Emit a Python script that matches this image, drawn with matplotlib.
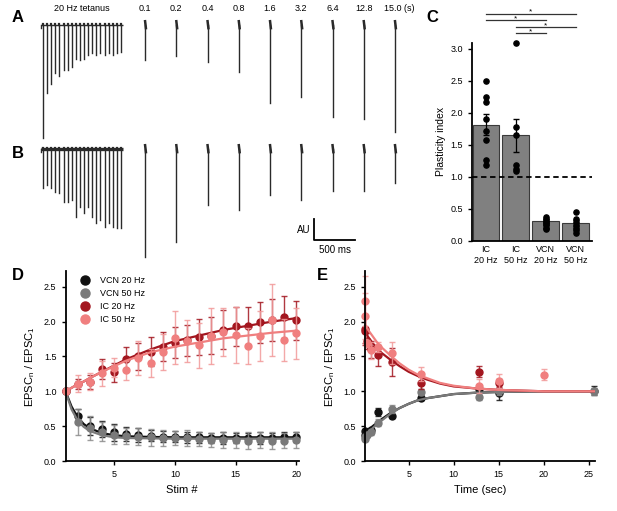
import numpy as np
import matplotlib
matplotlib.use("Agg")
import matplotlib.pyplot as plt

plt.rcParams['font.family'] = ['Liberation Sans', 'DejaVu Sans']
plt.rcParams['mathtext.default'] = 'regular'

W, H = 617, 511

# ---------------- data ----------------
# A / B example traces (amplitudes in AU, scale bar = 1 AU)
tet_A = [5.4, 3.25, 2.8, 2.3, 2.45, 2.15, 2.15, 2.0, 1.6, 1.65,
         1.6, 1.45, 1.35, 1.45, 1.35, 1.45, 1.35, 1.45, 1.35, 1.3]
rec_A = [1.65, 1.5, 1.75, 2.25, 3.7, 3.45, 4.4, 4.5, 5.1]
tet_B = [1.85, 1.7, 1.85, 2.05, 2.1, 2.5, 2.5, 2.45, 3.25, 2.75,
         3.05, 2.75, 3.25, 3.5, 3.4, 3.7, 3.5, 3.7, 3.75, 3.75]
rec_B = [5.15, 4.45, 2.65, 2.9, 2.2, 2.45, 2.0, 2.0, 1.6]
rec_labels = ['0.1', '0.2', '0.4', '0.8', '1.6', '3.2', '6.4', '12.8', '15.0 (s)']
tet_rate = 20  # Hz

# C plasticity index
groups = ['IC\n20 Hz', 'IC\n50 Hz', 'VCN\n20 Hz', 'VCN\n50 Hz']
pi_mean = [1.82, 1.65, 0.31, 0.28]
pi_sem = [0.17, 0.26, 0.03, 0.05]
pi_cells = [
    [2.50, 2.25, 2.17, 1.91, 1.72, 1.58, 1.26, 1.18],
    [3.10, 1.78, 1.65, 1.18, 1.13, 1.09],
    [0.37, 0.34, 0.32, 0.30, 0.27, 0.25, 0.21, 0.19],
    [0.45, 0.35, 0.30, 0.25, 0.20, 0.17, 0.13],
]
sig_pairs = [(0, 3), (0, 2), (1, 3), (1, 2)]

# D train data
stim = list(range(1, 21))
vcn20 = [1.0, 0.65, 0.50, 0.46, 0.41, 0.39, 0.37, 0.36, 0.35, 0.35,
         0.34, 0.34, 0.33, 0.33, 0.33, 0.33, 0.33, 0.33, 0.34, 0.34]
vcn20_err = [0, 0.10, 0.13, 0.12, 0.12, 0.10, 0.10, 0.08, 0.08, 0.08,
             0.08, 0.08, 0.07, 0.08, 0.07, 0.07, 0.08, 0.07, 0.07, 0.07]
vcn50 = [1.0, 0.56, 0.47, 0.42, 0.38, 0.36, 0.35, 0.34, 0.33, 0.33,
         0.33, 0.32, 0.30, 0.30, 0.30, 0.29, 0.30, 0.29, 0.29, 0.30]
vcn50_err = [0, 0.18, 0.17, 0.14, 0.14, 0.12, 0.12, 0.12, 0.12, 0.10,
             0.11, 0.10, 0.10, 0.11, 0.11, 0.12, 0.11, 0.12, 0.11, 0.12]
ic20 = [1.0, 1.11, 1.14, 1.32, 1.27, 1.47, 1.50, 1.57, 1.64, 1.70,
        1.73, 1.78, 1.80, 1.88, 1.93, 1.94, 1.99, 2.02, 2.06, 2.02]
ic20_err = [0, 0.07, 0.10, 0.15, 0.14, 0.17, 0.20, 0.21, 0.21, 0.22,
            0.22, 0.26, 0.27, 0.28, 0.28, 0.27, 0.29, 0.30, 0.30, 0.28]
ic50 = [1.0, 1.11, 1.14, 1.26, 1.34, 1.30, 1.48, 1.41, 1.56, 1.77,
        1.72, 1.66, 1.79, 1.85, 1.81, 1.65, 1.79, 2.02, 1.74, 1.83]
ic50_err = [0, 0.12, 0.12, 0.18, 0.14, 0.14, 0.24, 0.20, 0.26, 0.38,
            0.30, 0.32, 0.40, 0.35, 0.40, 0.26, 0.36, 0.52, 0.30, 0.36]

# D fit curves
fitD_x = [1, 1.5, 2, 2.5, 3, 4, 5, 6, 8, 10, 12, 14, 16, 18, 20]
fitD_vcn20 = [1.0, 0.78, 0.63, 0.53, 0.47, 0.40, 0.37, 0.355, 0.345, 0.34, 0.34, 0.34, 0.34, 0.34, 0.34]
fitD_vcn50 = [1.0, 0.74, 0.58, 0.49, 0.43, 0.37, 0.34, 0.33, 0.325, 0.32, 0.32, 0.32, 0.32, 0.32, 0.32]
fitD_ic20 = [1.0, 1.05, 1.10, 1.14, 1.19, 1.28, 1.37, 1.46, 1.60, 1.72, 1.80, 1.88, 1.94, 2.00, 2.05]
fitD_ic50 = [1.0, 1.05, 1.10, 1.14, 1.19, 1.28, 1.36, 1.44, 1.56, 1.64, 1.70, 1.76, 1.80, 1.84, 1.87]

# E recovery data
t_vcn = [0.1, 0.2, 0.4, 0.8, 1.6, 3.2, 6.4, 12.8, 15.0, 25.6]
e_vcn20 = [0.37, 0.43, 0.42, 0.45, 0.70, 0.64, 0.91, 1.03, 0.98, 1.01]
e_vcn20_err = [0.03, 0.03, 0.03, 0.03, 0.06, 0.03, 0.03, 0.03, 0.11, 0.06]
e_vcn50 = [0.32, 0.35, 0.38, 0.41, 0.55, 0.75, 0.99, 0.92, 1.00, 1.00]
e_vcn50_err = [0.03, 0.04, 0.04, 0.04, 0.05, 0.06, 0.05, 0.04, 0.05, 0.05]
t_ic20 = [0.1, 0.2, 0.4, 0.8, 1.6, 3.2, 6.4, 12.8, 15.0]
e_ic20 = [1.86, 1.89, 1.72, 1.60, 1.52, 1.42, 1.12, 1.28, 1.12]
e_ic20_err = [0.2, 0.2, 0.12, 0.12, 0.15, 0.2, 0.08, 0.08, 0.06]
t_ic50 = [0.1, 0.2, 0.4, 0.8, 1.6, 3.2, 6.4, 12.8, 15.0, 20.0]
e_ic50 = [2.30, 2.08, 1.69, 1.59, 1.64, 1.55, 1.25, 1.08, 1.15, 1.24]
e_ic50_err = [0.36, 0.33, 0.05, 0.12, 0.07, 0.16, 0.1, 0.1, 0.1, 0.08]

fitE_x = [0.1, 0.5, 1, 1.5, 2, 3, 4, 5, 6, 7, 8.5, 10, 12.5, 15, 20, 25.6]
fitE_vcn20 = [0.40, 0.44, 0.50, 0.55, 0.60, 0.69, 0.76, 0.82, 0.87, 0.90, 0.93, 0.96, 0.98, 0.99, 1.0, 1.0]
fitE_vcn50 = [0.36, 0.41, 0.47, 0.53, 0.58, 0.68, 0.76, 0.82, 0.87, 0.90, 0.93, 0.96, 0.98, 0.99, 1.0, 1.0]
fitE_ic20 = [1.86, 1.78, 1.69, 1.62, 1.55, 1.45, 1.36, 1.28, 1.22, 1.17, 1.11, 1.07, 1.04, 1.02, 1.0, 1.0]
fitE_ic50 = [1.97, 1.88, 1.79, 1.70, 1.63, 1.51, 1.40, 1.31, 1.24, 1.19, 1.12, 1.08, 1.04, 1.02, 1.0, 1.0]

c_vcn20 = '#111111'
c_vcn50 = '#7a7a7a'
c_ic20 = '#a3161f'
c_ic50 = '#f07f7f'


def px_axes(fig, left, top, right, bottom):
    return fig.add_axes([left / W, 1 - bottom / H, (right - left) / W, (bottom - top) / H])


fig = plt.figure(figsize=(W / 100, H / 100), dpi=100)

# ---------------- A / B traces ----------------
# trace axes: x in ms, y in AU. 500 ms = 41 px, 1 AU = 21 px
ms_px = 500 / 41.0
au_px = 1 / 21.0
axT = px_axes(fig, 0, 0, 420, 265)
axT.set_xlim(-43 * ms_px, (420 - 43) * ms_px)
axT.set_ylim(-240 * au_px, 25 * au_px)
axT.axis('off')

rec_t0 = 1245
rec_step = 381
base_A = 0.0
base_B = -124 * au_px
tcol = '#2a2a2a'


def draw_sweep(ax, base, tet, rec, thick):
    tt = np.arange(len(tet)) * 1000.0 / tet_rate
    ax.plot([-30, tt[-1] + 20], [base, base], color=tcol, lw=thick, solid_capstyle='butt')
    ax.plot([-30, -30], [base, base - 0.12], color=tcol, lw=1.0)
    for t, a in zip(tt, tet):
        ax.plot([t, t], [base, base - a], color=tcol, lw=1.0)
        ax.plot([t, t], [base, base + 0.06], color=tcol, lw=1.6)
    for i, a in enumerate(rec):
        t = rec_t0 + i * rec_step
        ax.plot([t, t], [base + 0.02, base - a], color=tcol, lw=1.0)
        ax.plot([t, t + 10], [base + 0.18, base - 0.15], color=tcol, lw=1.8)


draw_sweep(axT, base_A, tet_A, rec_A, 1.0)
draw_sweep(axT, base_B, tet_B, rec_B, 2.4)

axT.text(475, 0.55, '20 Hz tetanus', fontsize=6.5, ha='center', va='bottom')
for i, lab in enumerate(rec_labels):
    x = rec_t0 + i * rec_step
    if i == len(rec_labels) - 1:
        x += 55
    axT.text(x, 0.55, lab, fontsize=6.5, ha='center', va='bottom')

# scale bar
sb_x = (314 - 43) * ms_px
sb_y = -240 * au_px + 25 * au_px
axT.plot([sb_x, sb_x, sb_x + 500], [sb_y + 1.0, sb_y, sb_y], color='black', lw=1.3)
axT.text(sb_x - 40, sb_y + 0.5, 'AU', fontsize=7, ha='right', va='center')
axT.text(sb_x + 250, sb_y - 0.25, '500 ms', fontsize=7, ha='center', va='top')

# ---------------- C ----------------
axC = px_axes(fig, 472, 42.6, 592, 241)
xs = np.arange(len(groups))
axC.bar(xs, pi_mean, width=0.9, color='#808080', edgecolor='#3a3a3a', lw=0.8, zorder=2)
axC.errorbar(xs, pi_mean, yerr=pi_sem, fmt='none', ecolor='black', elinewidth=0.9, capsize=2, zorder=3)
for i, cells in enumerate(pi_cells):
    axC.scatter([xs[i]] * len(cells), cells, s=14, color='black', zorder=4, clip_on=False)
axC.axhline(1.0, color='black', lw=1.3, ls=(0, (3, 2)), zorder=5)
axC.set_xlim(-0.47, 3.55)
axC.set_ylim(0, 3.1)
axC.set_yticks(np.arange(0, 3.01, 0.5))
axC.set_yticklabels(['%.1f' % v for v in np.arange(0, 3.01, 0.5)])
axC.set_xticks(xs)
axC.set_xticklabels(groups, fontsize=6.5, linespacing=1.2)
axC.tick_params(axis='x', length=0, pad=3)
axC.tick_params(axis='y', labelsize=6.5, length=3, width=1, direction='out')
for s in ['top', 'right']:
    axC.spines[s].set_visible(False)
axC.spines['left'].set_linewidth(1.3)
axC.spines['bottom'].set_linewidth(1.3)
axC.set_ylabel('Plasticity index', fontsize=7.5, labelpad=3)
sig_y = [3.55, 3.45, 3.34, 3.25]
for (a, b), y in zip(sig_pairs, sig_y):
    axC.plot([xs[a], xs[b]], [y, y], color='#333333', lw=0.9, clip_on=False)
    axC.text((xs[a] + xs[b]) / 2, y - 0.03, '*', fontsize=6, ha='center', va='bottom')

# ---------------- D ----------------
axD = px_axes(fig, 65.5, 271.4, 298.8, 461)
series = [
    (vcn20, vcn20_err, fitD_vcn20, c_vcn20, c_vcn20, 'VCN 20 Hz'),
    (vcn50, vcn50_err, fitD_vcn50, c_vcn50, '#8c8c8c', 'VCN 50 Hz'),
    (ic20, ic20_err, fitD_ic20, c_ic20, c_ic20, 'IC 20 Hz'),
    (ic50, ic50_err, fitD_ic50, c_ic50, '#f29a9a', 'IC 50 Hz'),
]
for y, e, f, col, ecol, lab in series:
    axD.errorbar(stim, y, yerr=e, fmt='none', ecolor=ecol, elinewidth=1.0, capsize=2.5, alpha=0.85, clip_on=False)
    axD.plot(fitD_x, f, color=col, lw=1.6)
    axD.plot(stim, y, 'o', color=col, ms=5, label=lab, clip_on=False)
axD.set_xlim(1, 20.2)
axD.set_ylim(0, 2.72)
leg = axD.legend(loc='upper left', bbox_to_anchor=(0.03, 1.02), frameon=False, fontsize=6.5,
                 handlelength=1.0, handletextpad=1.2, labelspacing=0.45, markerscale=1.3)
axD.set_xlabel('Stim #', fontsize=8, labelpad=4)
axD.set_ylabel('EPSC$_{n}$ / EPSC$_{1}$', fontsize=8, labelpad=5)

# ---------------- E ----------------
axE = px_axes(fig, 365, 271.4, 595, 461)
eser = [
    (t_vcn, e_vcn20, e_vcn20_err, fitE_vcn20, c_vcn20, c_vcn20),
    (t_vcn, e_vcn50, e_vcn50_err, fitE_vcn50, c_vcn50, '#8c8c8c'),
    (t_ic20, e_ic20, e_ic20_err, fitE_ic20, c_ic20, c_ic20),
    (t_ic50, e_ic50, e_ic50_err, fitE_ic50, c_ic50, '#f29a9a'),
]
for t, y, e, f, col, ecol in eser:
    axE.errorbar(t, y, yerr=e, fmt='none', ecolor=ecol, elinewidth=1.0, capsize=2.5, alpha=0.85, clip_on=False)
    axE.plot(fitE_x, f, color=col, lw=1.6)
    axE.plot(t, y, 'o', color=col, ms=5, clip_on=False)
axE.set_xlim(0.15, 25.7)
axE.set_ylim(0, 2.72)
axE.set_xlabel('Time (sec)', fontsize=8, labelpad=4)
axE.set_ylabel('EPSC$_{n}$ / EPSC$_{1}$', fontsize=8, labelpad=5)

for ax, xt in [(axD, [5, 10, 15, 20]), (axE, [5, 10, 15, 20, 25])]:
    ax.set_xticks(xt)
    ax.set_yticks(np.arange(0, 2.51, 0.5))
    ax.set_yticklabels(['%.1f' % v for v in np.arange(0, 2.51, 0.5)])
    ax.tick_params(labelsize=6.5, length=3, width=1, direction='out')
    for s in ['top', 'right']:
        ax.spines[s].set_visible(False)
    ax.spines['left'].set_linewidth(1.3)
    ax.spines['bottom'].set_linewidth(1.3)

# panel letters
for lab, x, y in [('A', 18, 18), ('B', 18, 154), ('C', 432, 17), ('D', 18, 275), ('E', 322, 275)]:
    fig.text(x / W, 1 - y / H, lab, fontsize=12, fontweight='bold', ha='center', va='center')

fig.savefig('out.png', dpi=100)
